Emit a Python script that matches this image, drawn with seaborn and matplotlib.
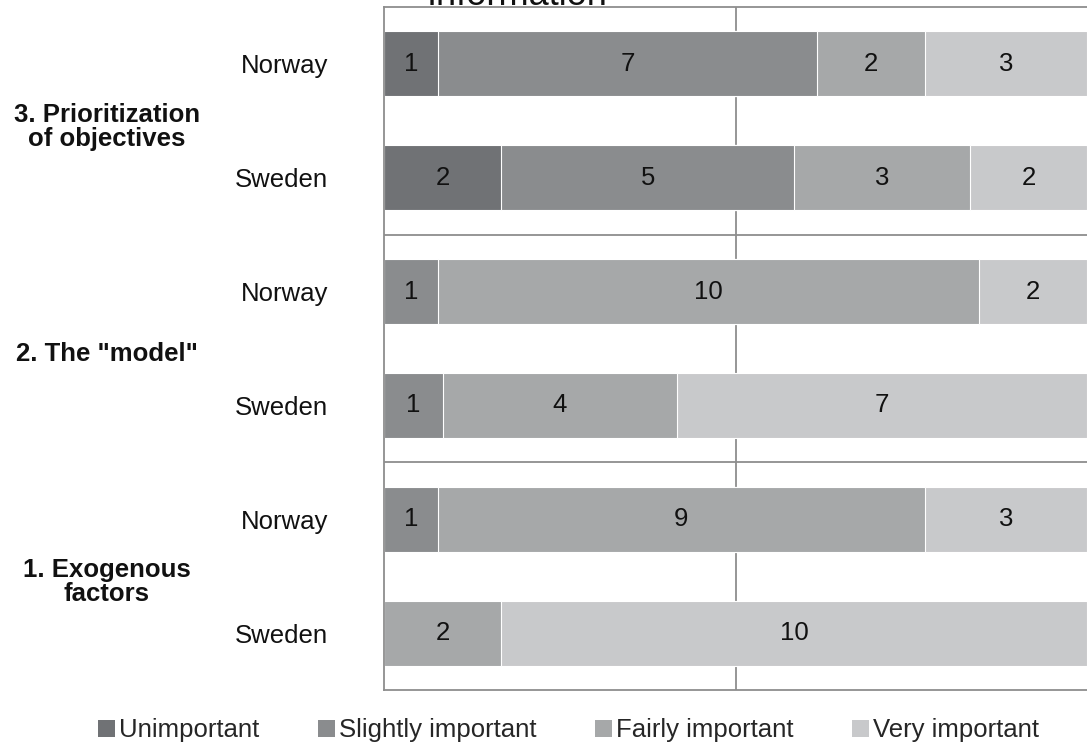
import pandas as pd
import matplotlib.pyplot as plt
import matplotlib.transforms as mtransforms
from matplotlib.patches import Patch
import seaborn as sns

# rows from top to bottom
countries = ["Norway", "Sweden", "Norway", "Sweden", "Norway", "Sweden"]
groups = ["3. Prioritization\nof objectives", '2. The "model"', "1. Exogenous\nfactors"]
levels = ["Unimportant", "Slightly important", "Fairly important", "Very important"]
unimportant = [1, 2, 0, 0, 0, 0]
slightly = [7, 5, 1, 1, 1, 0]
fairly = [2, 3, 10, 4, 9, 2]
very = [3, 2, 2, 7, 3, 10]
colors = ["#707275", "#8a8c8e", "#a6a8a9", "#c8c9cb"]

sns.set_style("white")
plt.rcParams["font.family"] = ["Liberation Sans", "DejaVu Sans"]

rows = [f"r{i}" for i in range(len(countries))]
df = pd.DataFrame({"row": rows, "country": countries,
                   levels[0]: unimportant, levels[1]: slightly,
                   levels[2]: fairly, levels[3]: very})
totals = df[levels].sum(axis=1)
shares = df[levels].div(totals, axis=0)
cums = shares.cumsum(axis=1)

fig = plt.figure(figsize=(10.87, 7.49), dpi=100)
ax = fig.add_axes([384 / 1087, 1 - 690 / 749, 703 / 1087, 683 / 749])

line_col = "#8e8e8e"
ax.axvline(0.5, color=line_col, lw=1.3, zorder=0)

# stacked bars: draw cumulative totals from widest to narrowest
for lvl, col in reversed(list(zip(levels, colors))):
    d = pd.DataFrame({"row": rows, "x": cums[lvl]})
    d.loc[shares[lvl] == 0, "x"] = float("nan")
    d = d.dropna()
    sns.barplot(data=d, x="x", y="row", order=rows, orient="h", color=col,
                width=0.57, edgecolor="white", linewidth=0.8, saturation=1,
                ax=ax, zorder=2)

for i in range(len(rows)):
    for lvl in levels:
        v = df.loc[i, lvl]
        if v > 0:
            ax.text(cums.loc[i, lvl] - shares.loc[i, lvl] / 2, i, str(v),
                    ha="center", va="center", fontsize=18.5, color="#111111", zorder=3)

for yy in [1.5, 3.5]:
    ax.axhline(yy, color=line_col, lw=1.3, zorder=1)

ax.set_xlim(0, 1)
ax.set_ylim(5.5, -0.5)
ax.set_xticks([])
ax.set_xlabel("")
ax.set_ylabel("")
ax.set_yticks(range(len(rows)))
ax.set_yticklabels(countries, fontsize=18.5, color="#111111")
ax.tick_params(axis="y", length=0, pad=40)
for side in ["top", "left", "bottom"]:
    ax.spines[side].set_color(line_col)
    ax.spines[side].set_linewidth(1.3)
ax.spines["right"].set_visible(False)

trans = mtransforms.blended_transform_factory(fig.transFigure, ax.transData)
for k, g in enumerate(groups):
    ax.text(107 / 1087, 2 * k + 0.5 + 0.05, g, transform=trans, ha="center", va="center",
            fontsize=18.5, fontweight="bold", linespacing=1.0, color="#111111")

fig.text(517 / 1087, 1 - 5 / 749, "Information", ha="center", va="baseline",
         fontsize=26, color="#111111")

handles = [Patch(facecolor=c, edgecolor="none") for c in colors]
fig.legend(handles, levels, loc="center", bbox_to_anchor=(0.523, 0.025), ncol=4,
           frameon=False, fontsize=18.5, handlelength=0.65, handleheight=0.65,
           handletextpad=0.15, columnspacing=2.3, borderaxespad=0)

fig.savefig("out.png", dpi=100)
